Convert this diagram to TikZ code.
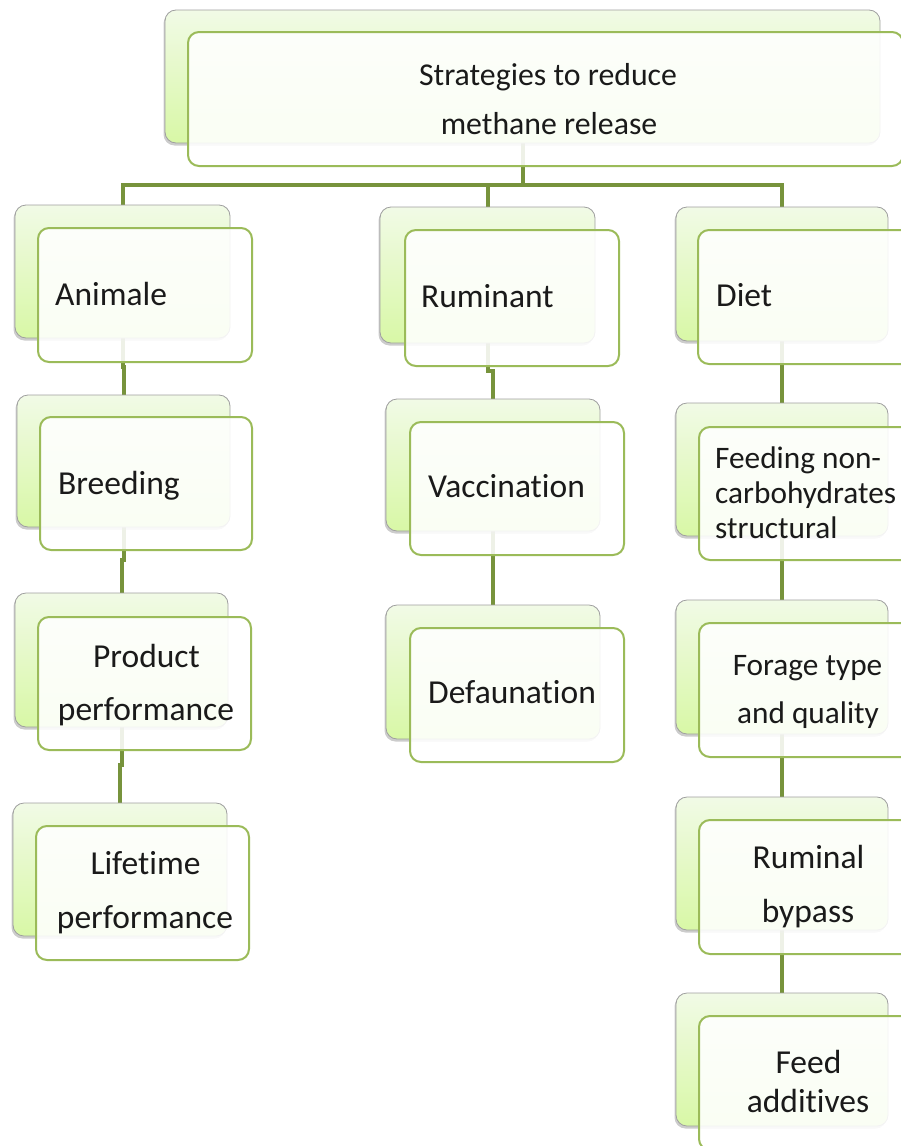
\documentclass[tikz,border=0pt]{standalone}
\usepackage{fontspec}
\setmainfont{Carlito}[Ligatures=NoCommon]
\usetikzlibrary{fit,shadows,calc}
\pgfdeclarelayer{bg}
\pgfsetlayers{bg,main}
\definecolor{connc}{HTML}{77933C}
\definecolor{frontc}{HTML}{9BBB59}
\definecolor{backtop}{HTML}{F1FAE6}
\definecolor{backbot}{HTML}{D8F8A6}
\definecolor{txtc}{HTML}{1A1A1A}
\tikzset{
  backbox/.style={rectangle, rounded corners=11pt, inner sep=0pt, draw=gray!75, line width=0.8pt,
    top color=backtop, bottom color=backbot,
    drop shadow={shadow xshift=-1.5pt, shadow yshift=-2.5pt, opacity=0.4}},
  frontbox/.style={rectangle, rounded corners=11pt, inner sep=0pt, draw=frontc, line width=2pt,
    fill=white, fill opacity=0.88},
  conn/.style={draw=connc, line width=4pt},
  lbl/.style={inner sep=0pt, yshift=-8pt, text=txtc, font=\fontsize{33.5}{40}\selectfont},
  smlbl/.style={inner sep=0pt, yshift=-8pt, text=txtc, font=\fontsize{31.3}{38}\selectfont},
  toplbl/.style={inner sep=0pt, yshift=-8pt, text=txtc, font=\fontsize{31.8}{38}\selectfont},
}
\begin{document}
\begin{tikzpicture}[x=1pt,y=-1pt]
\useasboundingbox (0,0) rectangle (901,1146);
% top
\node[backbox, fit={(165,10)(880,143)}] (top-b) {};
\node[frontbox, fit={(188,32)(903,166)}] (top-f) {};
\node[toplbl, anchor=mid] (top-t1) at (548,75) {Strategies to reduce};
\node[toplbl, anchor=mid] (top-t2) at (549,124) {methane release};
% column A
\node[backbox, fit={(15,205)(230,338)}] (a1-b) {};
\node[frontbox, fit={(38,228)(252,362)}] (a1-f) {};
\node[lbl, anchor=mid west] (a1-t) at (55,295) {Animale};
\node[backbox, fit={(17,395)(230,527)}] (a2-b) {};
\node[frontbox, fit={(40,417)(252,550)}] (a2-f) {};
\node[lbl, anchor=mid west] (a2-t) at (58,484) {Breeding};
\node[backbox, fit={(15,593)(228,727)}] (a3-b) {};
\node[frontbox, fit={(38,617)(251,750)}] (a3-f) {};
\node[lbl, anchor=mid] (a3-t1) at (146.5,657) {Product};
\node[lbl, anchor=mid] (a3-t2) at (146,710) {performance};
\node[backbox, fit={(13,803)(227,936)}] (a4-b) {};
\node[frontbox, fit={(36,826)(249,960)}] (a4-f) {};
\node[lbl, anchor=mid] (a4-t1) at (145.5,864) {Lifetime};
\node[lbl, anchor=mid] (a4-t2) at (145,918) {performance};
% column B
\node[backbox, fit={(380,207)(595,343)}] (b1-b) {};
\node[frontbox, fit={(405,230)(619,366)}] (b1-f) {};
\node[lbl, anchor=mid west] (b1-t) at (421,297) {Ruminant};
\node[backbox, fit={(386,399)(600,531)}] (b2-b) {};
\node[frontbox, fit={(410,422)(624,555)}] (b2-f) {};
\node[lbl, anchor=mid west] (b2-t) at (428,487) {Vaccination};
\node[backbox, fit={(386,605)(600,739)}] (b3-b) {};
\node[frontbox, fit={(410,628)(624,762)}] (b3-f) {};
\node[lbl, anchor=mid west] (b3-t) at (428,693) {Defaunation};
% column C
\node[backbox, fit={(676,207)(888,341)}] (c1-b) {};
\node[frontbox, fit={(698,230)(912,364)}] (c1-f) {};
\node[lbl, anchor=mid west] (c1-t) at (716,296) {Diet};
\node[backbox, fit={(676,403)(888,536)}] (c2-b) {};
\node[frontbox, fit={(699,427)(913,560)}] (c2-f) {};
\node[smlbl, anchor=mid west] (c2-t1) at (715,458) {Feeding non-};
\node[smlbl, anchor=mid west] (c2-t2) at (715,493) {carbohydrates};
\node[smlbl, anchor=mid west] (c2-t3) at (715,528) {structural};
\node[backbox, fit={(676,600)(888,734)}] (c3-b) {};
\node[frontbox, fit={(699,623)(913,757)}] (c3-f) {};
\node[smlbl, anchor=mid] (c3-t1) at (807.5,665) {Forage type};
\node[smlbl, anchor=mid] (c3-t2) at (808,713) {and quality};
\node[backbox, fit={(676,797)(888,930)}] (c4-b) {};
\node[frontbox, fit={(699,820)(913,954)}] (c4-f) {};
\node[lbl, anchor=mid] (c4-t1) at (808.5,858) {Ruminal};
\node[lbl, anchor=mid] (c4-t2) at (808,912) {bypass};
\node[backbox, fit={(676,993)(888,1126)}] (c5-b) {};
\node[frontbox, fit={(699,1016)(913,1150)}] (c5-f) {};
\node[lbl, anchor=mid] (c5-t1) at (808.5,1063) {Feed};
\node[lbl, anchor=mid] (c5-t2) at (808,1102) {additives};
% connectors
\coordinate (hub) at (522.5,185);
\begin{pgfonlayer}{bg}
\draw[conn] (top-b.south) -- (hub);
\draw[conn] (hub) -| (a1-b.north);
\draw[conn] (hub) -| (b1-b.north);
\draw[conn] (hub) -| (c1-b.north);
\foreach \p/\c in {a1/a2,a2/a3,a3/a4,b1/b2,b2/b3,c1/c2,c2/c3,c3/c4,c4/c5}{
  \draw[conn] (\p-b.south) |- ($(\p-b.south)!.5!(\c-b.north)$) -| (\c-b.north);
}
\end{pgfonlayer}
\end{tikzpicture}
\end{document}
